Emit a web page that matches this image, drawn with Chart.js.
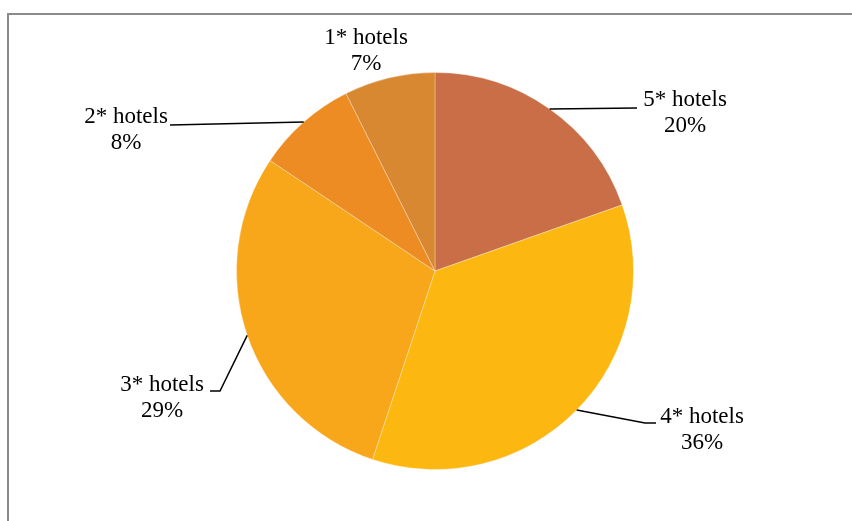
<!DOCTYPE html>
<html>
<head>
<meta charset="utf-8">
<script src="https://cdn.jsdelivr.net/npm/chart.js@4"></script>
<style>
  html, body { margin: 0; padding: 0; background: #fff; }
  #wrap { position: relative; width: 852px; height: 521px; }
</style>
</head>
<body>
<div id="wrap"><canvas id="chart" width="852" height="521"></canvas></div>
<script>
// data (shares in %, label shows the rounded value)
const categories = ['5* hotels', '4* hotels', '3* hotels', '2* hotels', '1* hotels'];
const shares = [19.6, 35.5, 29.3, 8.2, 7.4];
const sliceColors = ['#C96E46', '#FDB711', '#F8A61A', '#EC8C22', '#D98832'];

// label placement (text centre + leader line bends), same order as categories
const labelLayout = [
  { x: 685, y: 100, line: [[637, 108]] },
  { x: 702, y: 417, line: [[645, 423], [656, 423]] },
  { x: 162, y: 385, line: [[220, 391], [210, 391]] },
  { x: 126, y: 117, line: [[170, 125]] },
  { x: 366, y: 38, line: null },
];

const frame = {
  id: 'frame',
  beforeDraw(chart) {
    const ctx = chart.ctx;
    ctx.save();
    ctx.strokeStyle = '#8a8a8a';
    ctx.lineWidth = 2;
    ctx.beginPath();
    ctx.moveTo(8, 521);
    ctx.lineTo(8, 14);
    ctx.lineTo(852, 14);
    ctx.stroke();
    ctx.restore();
  }
};

const sliceLabels = {
  id: 'sliceLabels',
  afterDraw(chart) {
    const ctx = chart.ctx;
    const arcs = chart.getDatasetMeta(0).data;
    ctx.save();
    arcs.forEach((arc, i) => {
      const lay = labelLayout[i];
      const p = arc.getProps(['x', 'y', 'startAngle', 'endAngle', 'outerRadius'], true);
      const mid = (p.startAngle + p.endAngle) / 2;
      if (lay.line) {
        ctx.strokeStyle = '#000';
        ctx.lineWidth = 1.5;
        ctx.beginPath();
        ctx.moveTo(p.x + Math.cos(mid) * p.outerRadius, p.y + Math.sin(mid) * p.outerRadius);
        lay.line.forEach(pt => ctx.lineTo(pt[0], pt[1]));
        ctx.stroke();
      }
      ctx.fillStyle = '#000';
      ctx.font = '23px "Liberation Serif", "DejaVu Serif", serif';
      ctx.textAlign = 'center';
      ctx.textBaseline = 'middle';
      ctx.fillText(categories[i], lay.x, lay.y);
      ctx.fillText(Math.round(shares[i]) + '%', lay.x, lay.y + 26);
    });
    ctx.restore();
  }
};

new Chart(document.getElementById('chart'), {
  type: 'pie',
  data: {
    labels: categories,
    datasets: [{
      data: shares,
      backgroundColor: sliceColors,
      borderColor: 'rgba(255,255,255,0.3)',
      borderWidth: 1,
    }],
  },
  options: {
    responsive: false,
    animation: false,
    layout: { padding: { top: 72, bottom: 51, left: 236, right: 218 } },
    plugins: {
      legend: { display: false },
      tooltip: { enabled: false },
    },
  },
  plugins: [frame, sliceLabels],
});
</script>
</body>
</html>
